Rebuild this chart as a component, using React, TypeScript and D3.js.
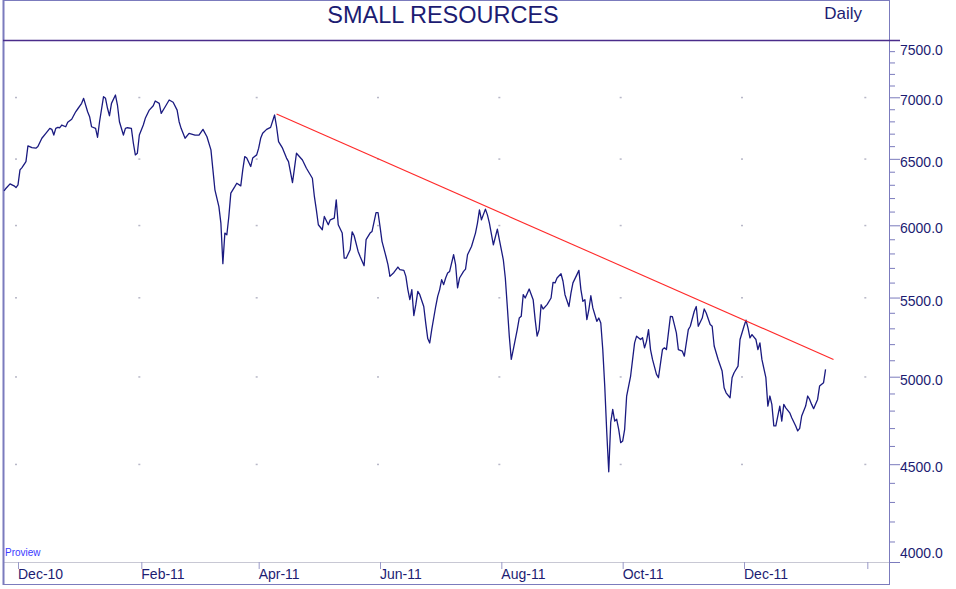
import React, { useEffect, useRef } from "react";
import * as d3 from "d3";

// daily close (day offsets from 1 Dec 2010)
const startDate = new Date(2010, 11, 1);

const dayOffsets = [
  -7, -6, -4, -2, -1, 0, 1, 2, 4, 5, 7, 9, 10, 12, 14, 16, 17, 18, 19, 20, 21, 22, 24, 25, 27, 29, 30, 32, 33, 35,
  36, 37, 39, 40, 41, 43, 44, 45, 46, 47, 49, 50, 51, 53, 54, 55, 57, 58, 59, 60, 61, 63, 64, 66, 68, 69, 71, 72, 74, 76,
  78, 80, 81, 82, 84, 86, 89, 91, 93, 95, 97, 98, 99, 101, 102, 103, 104, 105, 106, 107, 109, 110, 112, 113, 114, 115, 117, 118, 120, 121,
  122, 123, 125, 127, 129, 130, 131, 133, 135, 136, 138, 139, 140, 143, 145, 148, 149, 150, 151, 153, 154, 156, 157, 159, 160, 161, 163, 164, 165, 167,
  168, 169, 171, 172, 174, 175, 177, 178, 180, 181, 182, 183, 185, 186, 187, 189, 191, 192, 194, 195, 196, 197, 198, 199, 200, 201, 202, 204, 205, 206,
  207, 208, 210, 211, 212, 213, 214, 215, 216, 217, 219, 220, 221, 222, 224, 225, 226, 228, 230, 231, 232, 233, 235, 236, 237, 239, 241, 242, 244, 245,
  246, 247, 248, 249, 251, 252, 253, 254, 255, 257, 259, 260, 261, 262, 263, 264, 266, 268, 269, 270, 271, 273, 274, 275, 277, 278, 279, 281, 282, 283,
  284, 285, 286, 287, 288, 289, 291, 292, 293, 294, 295, 296, 297, 298, 299, 300, 301, 302, 303, 304, 305, 306, 308, 309, 310, 311, 313, 314, 315, 316,
  317, 318, 319, 321, 322, 324, 325, 326, 328, 329, 331, 332, 334, 335, 337, 338, 340, 341, 342, 344, 345, 346, 348, 349, 350, 352, 354, 355, 356, 358,
  359, 360, 362, 363, 365, 366, 367, 368, 369, 371, 372, 373, 374, 376, 377, 378, 379, 380, 381, 383, 384, 385, 386, 388, 389, 391, 392, 393, 394, 396,
  397, 398, 399, 400, 402, 403, 405, 406,
];

const closes = [
  6254, 6274, 6307, 6292, 6279, 6299, 6414, 6432, 6478, 6602, 6588, 6584, 6597, 6663, 6703, 6743, 6735, 6689, 6743, 6751, 6748, 6770, 6756, 6792, 6817, 6879, 6902, 6949, 6991, 6879,
  6838, 6756, 6743, 6671, 6797, 7005, 6991, 6908, 6846, 6949, 7019, 6935, 6797, 6689, 6743, 6748, 6743, 6623, 6531, 6544, 6689, 6770, 6825, 6893, 6929, 6969, 6949, 6866, 6921, 6977,
  6958, 6893, 6797, 6743, 6663, 6703, 6689, 6689, 6735, 6675, 6570, 6414, 6262, 6137, 6016, 5729, 5944, 5932, 6064, 6237, 6286, 6312, 6292, 6414, 6518, 6506, 6440, 6506, 6531, 6584,
  6663, 6703, 6735, 6751, 6852, 6756, 6636, 6584, 6506, 6478, 6316, 6427, 6544, 6491, 6427, 6350, 6212, 6113, 6004, 5968, 6064, 6004, 6040, 6052, 6187, 6004, 5944, 5767, 5767, 5826,
  5953, 5925, 5814, 5779, 5715, 5897, 5944, 5956, 6093, 6093, 5992, 5885, 5779, 5722, 5642, 5669, 5706, 5688, 5683, 5642, 5553, 5486, 5553, 5382, 5453, 5541, 5519, 5441, 5332, 5235,
  5207, 5292, 5441, 5508, 5553, 5620, 5586, 5631, 5665, 5676, 5791, 5722, 5564, 5631, 5676, 5692, 5791, 5849, 5944, 6016, 6113, 6040, 6118, 6076, 6016, 5861, 5973, 5897, 5756, 5631,
  5441, 5250, 5105, 5166, 5292, 5366, 5377, 5519, 5497, 5557, 5486, 5356, 5250, 5292, 5453, 5425, 5453, 5497, 5602, 5598, 5631, 5660, 5609, 5519, 5441, 5530, 5598, 5654, 5683, 5553,
  5475, 5486, 5356, 5421, 5512, 5432, 5345, 5366, 5334, 5166, 4941, 4676, 4459, 4732, 4807, 4740, 4750, 4693, 4618, 4627, 4693, 4885, 5004, 5105, 5208, 5250, 5229, 5240, 5177, 5219,
  5292, 5166, 5105, 5014, 4994, 5166, 5177, 5166, 5377, 5375, 5271, 5166, 5156, 5125, 5292, 5313, 5410, 5441, 5313, 5366, 5425, 5399, 5324, 5313, 5188, 5105, 5034, 4934, 4904, 4875,
  4994, 5024, 5064, 5229, 5313, 5352, 5303, 5239, 5260, 5229, 5166, 5208, 5105, 4994, 4826, 4885, 4836, 4712, 4712, 4826, 4740, 4836, 4816, 4787, 4759, 4712, 4684, 4698, 4769, 4826,
  4885, 4865, 4836, 4811, 4865, 4944, 4964, 5044,
];

// red resistance line
const trendDays = [130, 410];
const trendValues = [6860, 5105];

const yMajors = [4000, 4500, 5000, 5500, 6000, 6500, 7000, 7500];
const xTickDates = ["2010-12-01", "2011-02-01", "2011-04-01", "2011-06-01", "2011-08-01", "2011-10-01", "2011-12-01", "2012-02-01"];
const xTickLabels = ["Dec-10", "Feb-11", "Apr-11", "Jun-11", "Aug-11", "Oct-11", "Dec-11", ""];

const W = 956;
const H = 589;
const FONT = "'Liberation Sans', Arial, sans-serif";
const NAVY = "#1c1c72";
const FRAME = "#7b7bbd";

const App = () => {
  const svgRef = useRef(null);

  useEffect(() => {
    const svg = d3.select(svgRef.current);
    svg.selectAll("*").remove();

    const plot = { left: 4, right: 889, top: 40, bottom: 562 };

    const x = d3
      .scaleTime()
      .domain([startDate, new Date(2011, 11, 1)])
      .range([18, 744]);
    const y = d3.scaleLog().domain([4000, 7500]).range([plot.bottom, plot.top]);

    const toDate = (d: number) => d3.timeDay.offset(startDate, d);
    const parse = d3.timeParse("%Y-%m-%d");
    const ticks = xTickDates.map((s) => parse(s) as Date);

    svg.append("rect").attr("width", W).attr("height", H).attr("fill", "#fff");

    // grid dots
    ticks.forEach((t) => {
      yMajors.slice(1, -1).forEach((v) => {
        svg
          .append("rect")
          .attr("x", x(t) - 3)
          .attr("y", y(v) - 0.5)
          .attr("width", 2)
          .attr("height", 1.5)
          .attr("fill", "#b8b8c8");
      });
    });

    // x axis line + ticks
    svg
      .append("line")
      .attr("x1", plot.left)
      .attr("x2", plot.right)
      .attr("y1", plot.bottom + 0.5)
      .attr("y2", plot.bottom + 0.5)
      .attr("stroke", "#c8c8d4");

    ticks.forEach((t, i) => {
      svg
        .append("line")
        .attr("x1", x(t) + 0.5)
        .attr("x2", x(t) + 0.5)
        .attr("y1", plot.bottom)
        .attr("y2", plot.bottom + 7)
        .attr("stroke", "#9a9ac8");
      svg
        .append("text")
        .attr("x", x(t))
        .attr("y", 579)
        .attr("font-family", FONT)
        .attr("font-size", 14)
        .attr("fill", NAVY)
        .text(xTickLabels[i]);
    });

    // y axis minor + major ticks
    d3.range(4000, 7501, 100).forEach((v) => {
      const major = v % 500 === 0;
      svg
        .append("line")
        .attr("x1", plot.right)
        .attr("x2", plot.right + (major ? 11 : 6))
        .attr("y1", y(v) + 0.5)
        .attr("y2", y(v) + 0.5)
        .attr("stroke", FRAME);
    });
    yMajors.forEach((v) => {
      const cy = Math.max(50, Math.min(553, y(v) + 3));
      svg
        .append("text")
        .attr("x", 900)
        .attr("y", cy + 5)
        .attr("font-family", FONT)
        .attr("font-size", 14)
        .attr("fill", NAVY)
        .text(d3.format(".1f")(v));
    });

    // frame
    svg.append("line").attr("x1", 3.5).attr("x2", 3.5).attr("y1", 0).attr("y2", 585).attr("stroke", FRAME).attr("stroke-width", 2);
    svg.append("line").attr("x1", 3).attr("x2", plot.right).attr("y1", 0.5).attr("y2", 0.5).attr("stroke", FRAME);
    svg.append("line").attr("x1", 3).attr("x2", plot.right + 0.5).attr("y1", 584.5).attr("y2", 584.5).attr("stroke", FRAME);
    svg.append("line").attr("x1", plot.right + 0.5).attr("x2", plot.right + 0.5).attr("y1", 0).attr("y2", 585).attr("stroke", FRAME);
    svg
      .append("line")
      .attr("x1", 3)
      .attr("x2", plot.right + 11)
      .attr("y1", plot.top + 0.5)
      .attr("y2", plot.top + 0.5)
      .attr("stroke", "#4a2c8a")
      .attr("stroke-width", 1.5);

    // title
    svg
      .append("text")
      .attr("x", 443)
      .attr("y", 23)
      .attr("text-anchor", "middle")
      .attr("font-family", FONT)
      .attr("font-size", 23.5)
      .attr("fill", NAVY)
      .text("SMALL RESOURCES");
    svg
      .append("text")
      .attr("x", 862)
      .attr("y", 19)
      .attr("text-anchor", "end")
      .attr("font-family", FONT)
      .attr("font-size", 17)
      .attr("fill", NAVY)
      .text("Daily");
    svg
      .append("text")
      .attr("x", 5)
      .attr("y", 556)
      .attr("font-family", FONT)
      .attr("font-size", 10)
      .attr("fill", "#3a3aff")
      .text("Proview");

    // price line
    const line = d3
      .line<number>()
      .x((d) => x(toDate(d)))
      .y((_, i) => y(closes[i]));
    svg
      .append("path")
      .datum(dayOffsets)
      .attr("d", line)
      .attr("fill", "none")
      .attr("stroke", "#1a1a80")
      .attr("stroke-width", 1.3)
      .attr("stroke-linejoin", "round");

    // trend line
    const trend = d3
      .line<number>()
      .x((d) => x(toDate(d)))
      .y((_, i) => y(trendValues[i]));
    svg
      .append("path")
      .datum(trendDays)
      .attr("d", trend)
      .attr("fill", "none")
      .attr("stroke", "#ff2a2a")
      .attr("stroke-width", 1.1);
  }, []);

  return (
    <svg
      ref={svgRef}
      width={W}
      height={H}
      style={{ position: "absolute", left: 0, top: 0, display: "block" }}
    />
  );
};

export default App;
